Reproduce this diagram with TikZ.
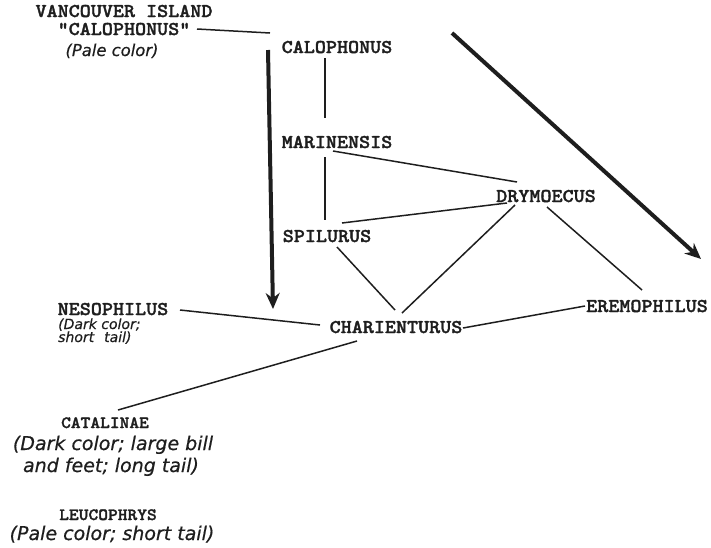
\documentclass[tikz,border=0pt]{standalone}
\usepackage{fontspec}
\newfontfamily\nmfont[Extension=.otf,FakeStretch=1.08,FakeBold=1.6]{lmmonolt10-bold}
\newfontfamily\descfont[FakeBold=0.5]{DejaVu Sans}
\usetikzlibrary{arrows.meta,calc}
\definecolor{ink}{HTML}{1E1E1E}
\begin{document}
\begin{tikzpicture}[x=1pt,y=-1pt,
  nm/.style={inner sep=0pt,anchor=base,text=ink,font=\fontsize{19.5}{21}\selectfont\nmfont},
  nms/.style={inner sep=0pt,anchor=base,text=ink,font=\fontsize{17.2}{19}\selectfont\nmfont},
  desc/.style={inner sep=0pt,anchor=base,text=ink,font=\fontsize{19}{21}\selectfont\descfont\itshape},
  descs/.style={desc,font=\fontsize{16.4}{18}\selectfont\descfont\itshape},
  descn/.style={desc,font=\fontsize{14}{15}\selectfont\descfont\itshape},
  link/.style={draw=ink,line width=1.5pt},
  bigarrow/.style={draw=ink,line width=4pt,-{Stealth[length=16pt,width=14pt]}}]
\useasboundingbox (0,0) rectangle (711,547);
% labels
\node[nm] (van) at (124,17) {VANCOUVER ISLAND};
\node[nm] (vq) at (124,35) {"CALOPHONUS"};
\node[descs] (vd) at (112,56) {(Pale color)};
\node[nm] (calo) at (337,53) {CALOPHONUS};
\node[nm] (mar) at (337,148) {MARINENSIS};
\node[nm] (dry) at (546,202) {DRYMOECUS};
\node[nm] (spi) at (327,242) {SPILURUS};
\node[nm] (char) at (396,333) {CHARIENTURUS};
\node[nm] (ere) at (647,312) {EREMOPHILUS};
\node[nm] (neso) at (113,315) {NESOPHILUS};
\node[descn,anchor=base west] (nd1) at (58,329) {(Dark color;};
\node[descn,anchor=base west] (nd2) at (58,342) {short\hspace{10pt}tail)};
\node[nms] (cata) at (105,428) {CATALINAE};
\node[desc] (cd1) at (113,450) {(Dark color; large bill};
\node[desc] (cd2) at (111,472) {and feet; long tail)};
\node[nms] (leu) at (108,520) {LEUCOPHRYS};
\node[desc] (ld) at (112,540) {(Pale color; short tail)};
% connectors
\draw[link] ([shift={(73,-6)}]vq.base) -- ([shift={(-67,-20)}]calo.base);
\draw[link] ([shift={(-12,5)}]calo.base) -- ([shift={(-12,-30)}]mar.base);
\draw[link] ([shift={(-12,9)}]mar.base) -- ([shift={(-2,-22)}]spi.base);
\draw[link] ([shift={(-4,3)}]mar.base) -- ([shift={(-29,-20)}]dry.base);
\draw[link] ([shift={(15,-19)}]spi.base) -- ([shift={(-39,1)}]dry.base);
\draw[link] ([shift={(10,5)}]spi.base) -- ([shift={(-1,-23)}]char.base);
\draw[link] ([shift={(-31,3)}]dry.base) -- ([shift={(6,-20)}]char.base);
\draw[link] ([shift={(1,5)}]dry.base) -- ([shift={(-5,-22)}]ere.base);
\draw[link] ([shift={(67,-5)}]char.base) -- ([shift={(-62,-6)}]ere.base);
\draw[link] ([shift={(67,-5)}]neso.base) -- ([shift={(-76,-8)}]char.base);
\draw[link] ([shift={(-39,8)}]char.base) -- ([shift={(13,-18)}]cata.base);
% big arrows
\coordinate (a1s) at (268,50);
\coordinate (a1e) at (273,309);
\coordinate (a2s) at (452,33);
\coordinate (a2e) at (701,259);
\draw[bigarrow] (a1s) -- (a1e);
\draw[bigarrow] (a2s) -- (a2e);
\end{tikzpicture}
\end{document}
